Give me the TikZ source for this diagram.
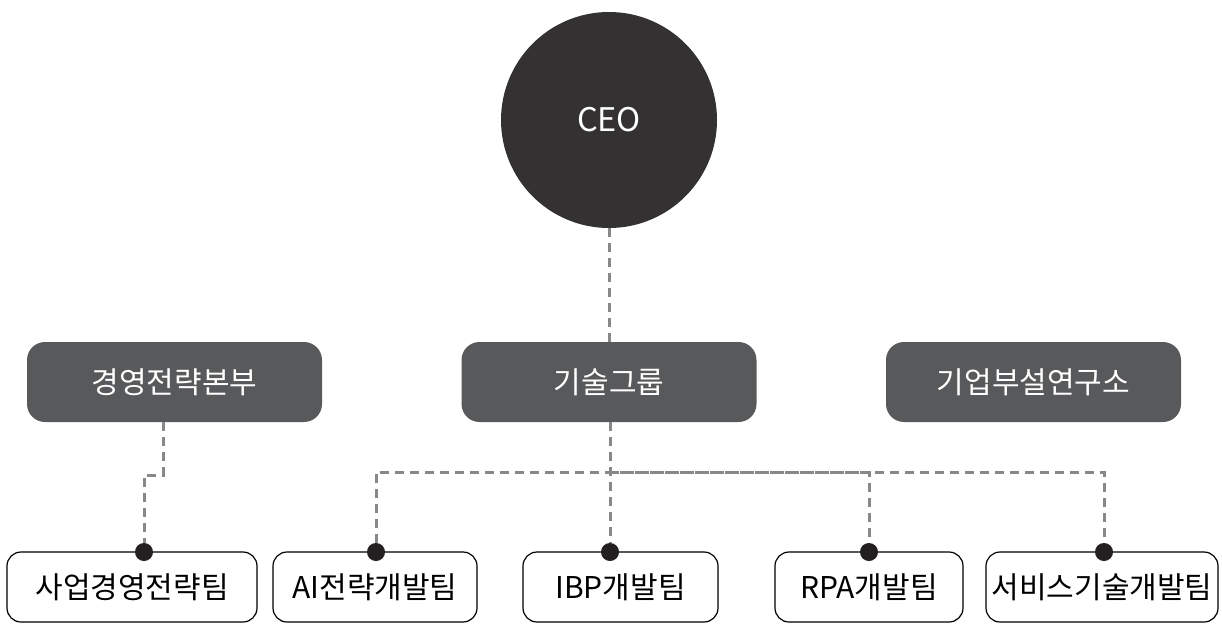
\documentclass[tikz,border=0pt]{standalone}
\usepackage{fontspec}
\setmainfont{Noto Sans CJK KR}
\usepackage{tikz}
\definecolor{ceodark}{HTML}{333132}
\definecolor{deptgray}{HTML}{58595B}
\definecolor{linkgray}{HTML}{88888A}
\definecolor{dotblack}{HTML}{231F20}
\begin{document}
\begin{tikzpicture}[x=1pt,y=-1pt]
		\tikzset{
			dept/.style = {fill = deptgray, draw = none, rounded corners = 18pt, minimum width = 295pt, minimum height = 80pt, text = white, font = \fontsize{30}{34}\selectfont},
			team/.style = {draw = black, line width = 1.2pt, fill = white, rounded corners = 14pt, minimum height = 70pt, font = \fontsize{30}{34}\selectfont},
			hub/.style = {circle, fill = dotblack, inner sep = 0pt, minimum size = 18pt},
			link/.style = {linkgray, line width = 3pt, dash pattern = on 9pt off 6pt}
		}
		\useasboundingbox (0,0) rectangle (1222,624);
		\node[circle, fill = ceodark, minimum size = 216pt, text = white, font = \fontsize{32.5}{36}\selectfont] (ceo) at (609,120) {CEO};
		\node[dept] (mgmt) at (174.5,382) {경영전략본부};
		\node[dept] (tech) at (609,382) {기술그룹};
		\node[dept] (lab) at (1033.5,382) {기업부설연구소};
		\node[team, minimum width = 250pt] (biz) at (132,587) {사업경영전략팀};
		\node[team, minimum width = 204pt] (ai) at (375,587) {AI전략개발팀};
		\node[team, minimum width = 195pt] (ibp) at (620.5,587) {IBP개발팀};
		\node[team, minimum width = 188pt] (rpa) at (869,587) {RPA개발팀};
		\node[team, minimum width = 232pt] (svc) at (1102,587) {서비스기술개발팀};
		\node[hub] (dbiz) at (144,552) {};
		\node[hub] (dai) at (376,552) {};
		\node[hub] (dibp) at (610,552) {};
		\node[hub] (drpa) at (869,552) {};
		\node[hub] (dsvc) at (1104,552) {};
		\coordinate (kneeA) at (163,475);
		\coordinate (kneeB) at (144,475);
		\coordinate (bus) at (610,472);
		\draw[link] (ceo) -- (tech);
		\draw[link] (tech.south -| bus) -- (dibp);
		\draw[link] (dai) |- (bus) -| (dsvc);
		\draw[link] (bus) -| (drpa);
		\draw[link] (mgmt.south -| kneeA) -- (kneeA) -- (kneeB) -- (dbiz);
	\end{tikzpicture}
\end{document}
